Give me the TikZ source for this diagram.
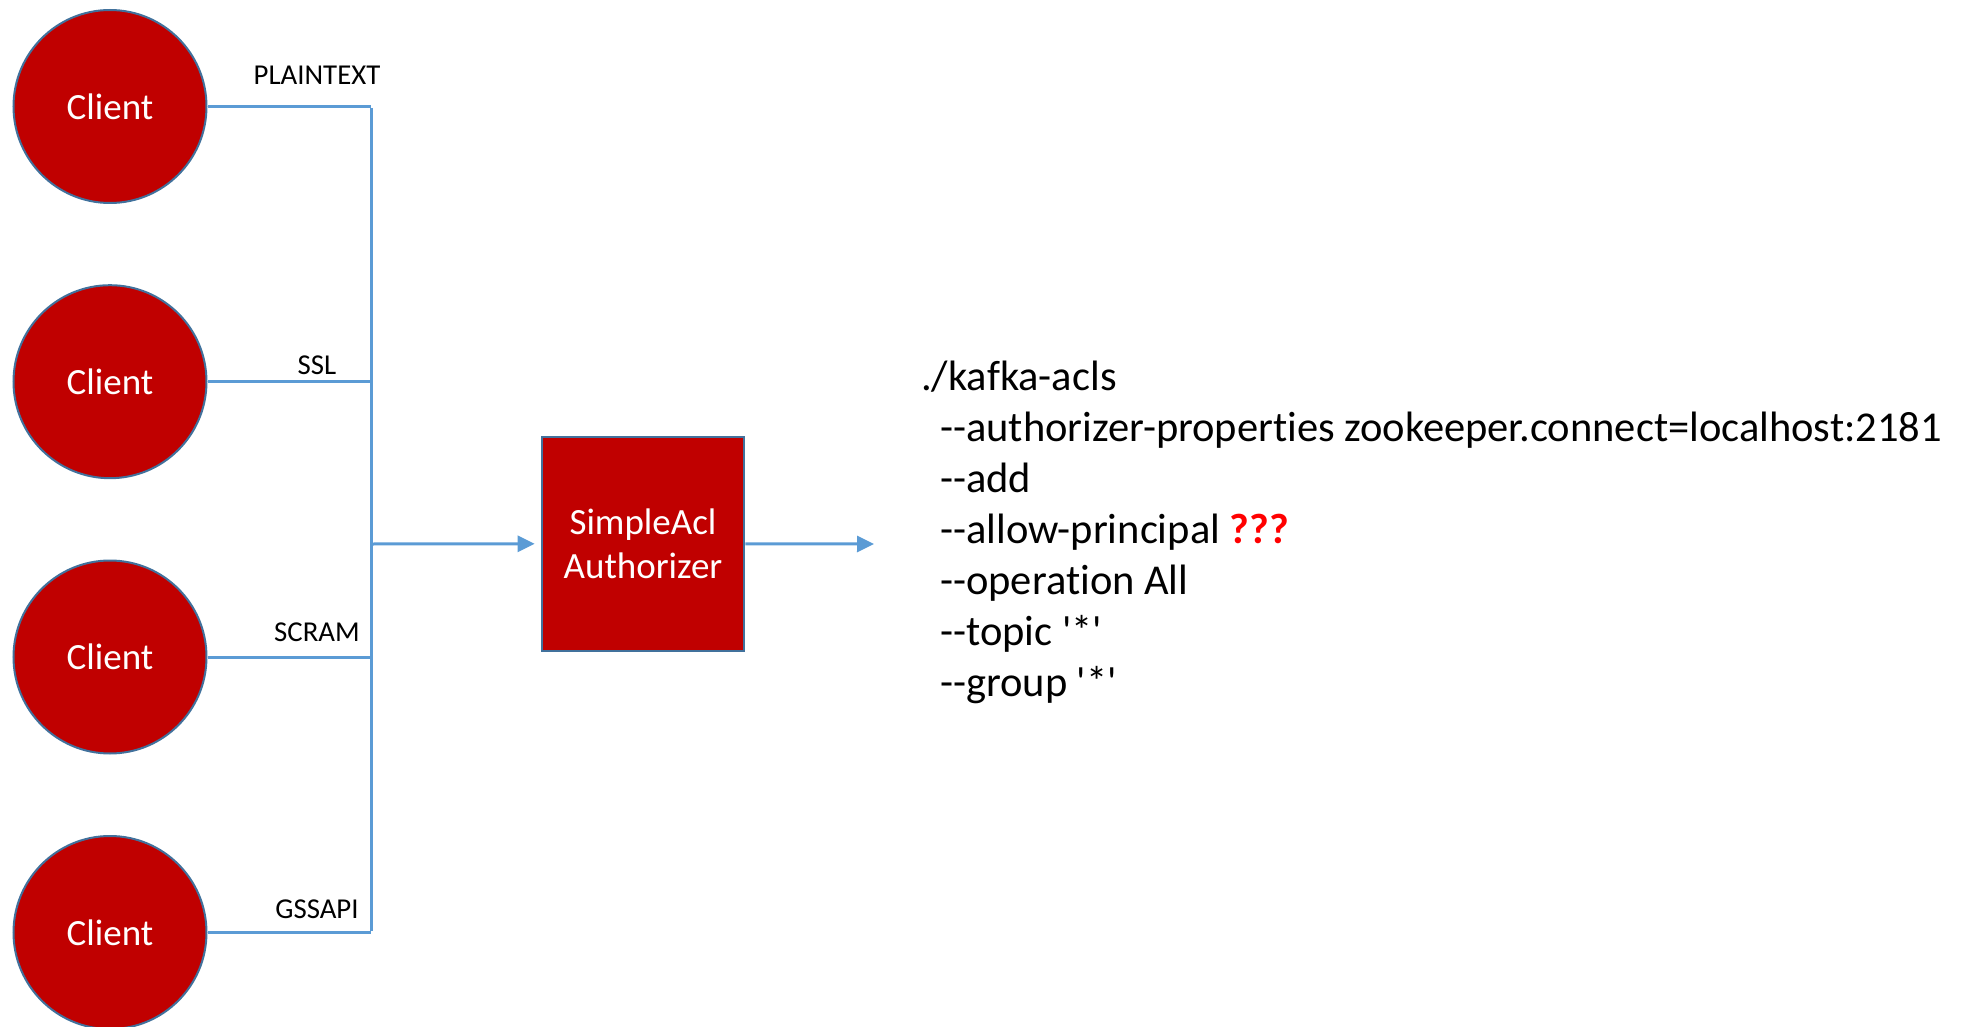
\documentclass[tikz,border=0pt]{standalone}
\usepackage{fontspec}
\setmainfont{Carlito}[Ligatures={TeXOff,NoCommon}]
\usetikzlibrary{arrows.meta}
\definecolor{darkred}{HTML}{C00000}
\definecolor{outline}{HTML}{41719C}
\definecolor{wire}{HTML}{5B9BD5}
\definecolor{brightred}{HTML}{FF0000}
\tikzset{
  client/.style={circle, fill=darkred, draw=outline, line width=2pt,
    minimum size=193pt, inner sep=0pt, text=white,
    font=\fontsize{37}{44}\selectfont},
  authbox/.style={rectangle, fill=darkred, draw=outline, line width=2pt,
    minimum width=202.6pt, minimum height=214.3pt, inner sep=0pt, text=white,
    align=center, font=\fontsize{37}{44.3}\selectfont},
  proto/.style={anchor=base, inner sep=0pt, font=\fontsize{28.8}{34}\selectfont},
  wireline/.style={draw=wire, line width=3pt},
  flow/.style={wireline, -{Triangle[length=17pt,width=16pt]}, shorten >=6pt},
  cmd/.style={anchor=base west, inner sep=0pt, font=\fontsize{42.5}{50}\selectfont}
}
\begin{document}
\begin{tikzpicture}[x=1pt,y=-1pt]
\useasboundingbox (0,0) rectangle (1968,1027);

% clients
\node[client] (c1) at (110,106.5) {Client};
\node[client] (c2) at (110,381.7) {Client};
\node[client] (c3) at (110,657) {Client};
\node[client] (c4) at (110,932.5) {Client};

% bus junctions
\coordinate (j1) at (371,106.5);
\coordinate (j2) at (371,381.7);
\coordinate (j3) at (371,657);
\coordinate (j4) at (371,932.5);
\coordinate (jm) at (371,544);

% authorizer
\node[authbox] (auth) at (643,543.8) {SimpleAcl\\Authorizer};
\coordinate (out) at (880,544);

% wiring
\draw[wireline] (c1.east) -- (j1);
\draw[wireline] (c2.east) -- (j2);
\draw[wireline] (c3.east) -- (j3);
\draw[wireline] (c4.east) -- (j4);
\draw[wireline] ([yshift=-1.5pt]j1) -- ([yshift=1.5pt]j4);
\draw[flow] (jm) -- (auth.west);
\draw[flow] (auth.east) -- (out);

% protocol labels
\node[proto] (l1) at (317,85) {PLAINTEXT};
\node[proto] (l2) at (317,374) {SSL};
\node[proto] (l3) at (317,641.7) {SCRAM};
\node[proto] (l4) at (317,918.3) {GSSAPI};

% command text
\node[cmd] (t0) at (921,390) {./kafka-acls};
\node[cmd] (t1) at (940,441) {--authorizer-properties zookeeper.connect=localhost:2181};
\node[cmd] (t2) at (940,492) {--add};
\node[cmd] (t3) at (940,543) {--allow-principal \textcolor{brightred}{\bfseries ???}};
\node[cmd] (t4) at (940,594) {--operation All};
\node[cmd] (t5) at (940,645) {--topic '*'};
\node[cmd] (t6) at (940,696) {--group '*'};
\end{tikzpicture}
\end{document}
